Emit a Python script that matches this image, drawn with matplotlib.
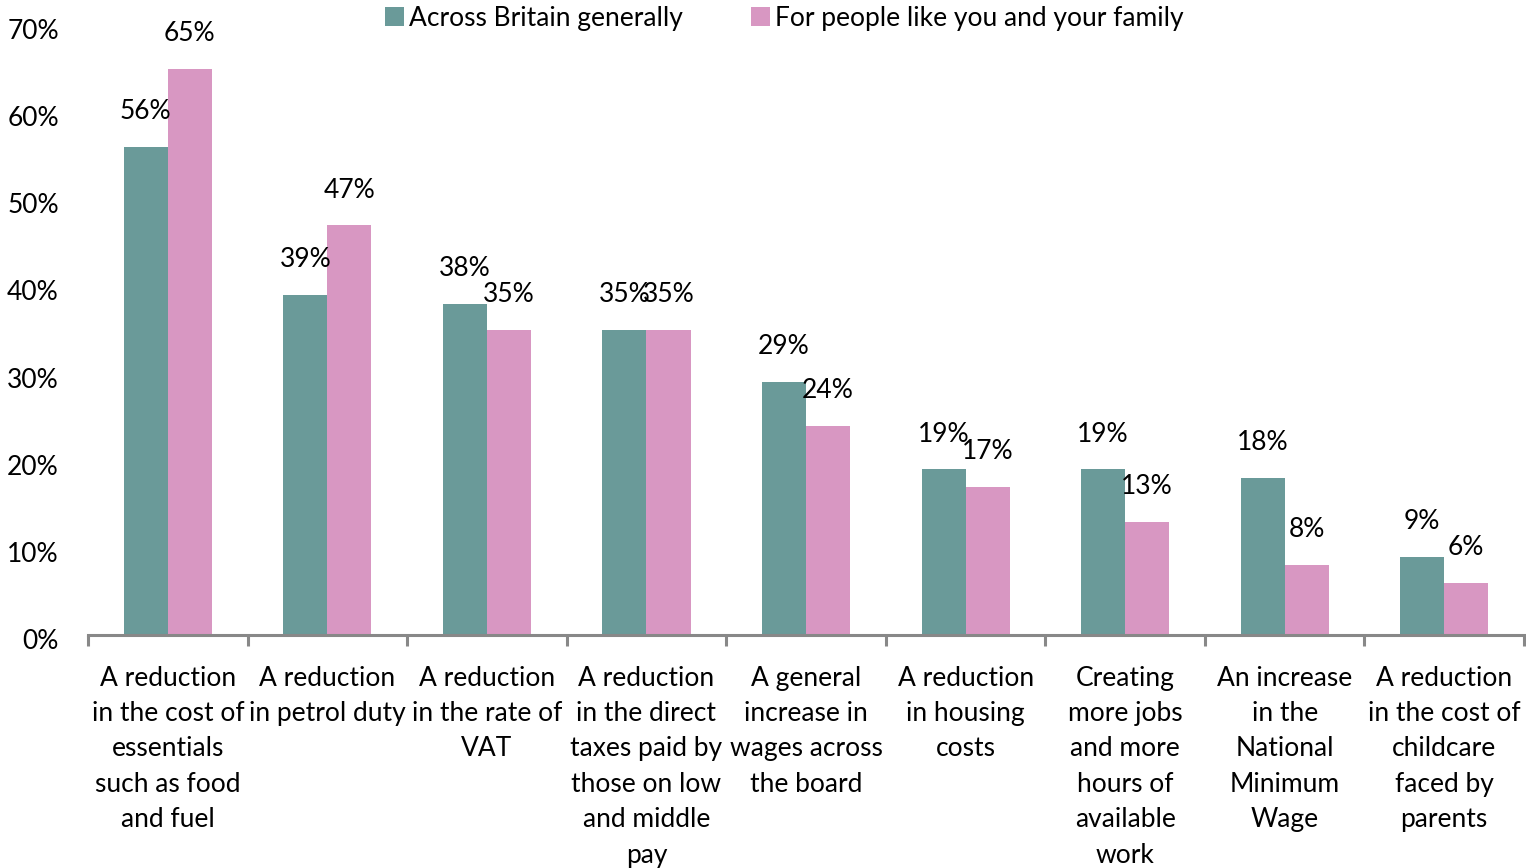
import matplotlib
matplotlib.use("Agg")
import matplotlib.pyplot as plt
import matplotlib.transforms as mtransforms
from matplotlib.patches import Patch
import numpy as np

categories = [
    "A reduction\nin the cost of\nessentials\nsuch as food\nand fuel",
    "A reduction\nin petrol duty",
    "A reduction\nin the rate of\nVAT",
    "A reduction\nin the direct\ntaxes paid by\nthose on low\nand middle\npay",
    "A general\nincrease in\nwages across\nthe board",
    "A reduction\nin housing\ncosts",
    "Creating\nmore jobs\nand more\nhours of\navailable\nwork",
    "An increase\nin the\nNational\nMinimum\nWage",
    "A reduction\nin the cost of\nchildcare\nfaced by\nparents",
]
britain = [56, 39, 38, 35, 29, 19, 19, 18, 9]
family = [65, 47, 35, 35, 24, 17, 13, 8, 6]
series_names = ["Across Britain generally", "For people like you and your family"]
y_ticks = [0, 10, 20, 30, 40, 50, 60, 70]

teal = "#6A9A99"
pink = "#D897C2"
fs = 19

plt.rcParams["font.family"] = ["Lato", "DejaVu Sans"]

fig = plt.figure(figsize=(15.26, 8.68), dpi=100)
ax = fig.add_axes([0.0577, 0.2684, 0.941, 0.7028])

x = np.arange(len(categories))
w = 0.276
b1 = ax.bar(x - w / 2, britain, width=w, color=teal, edgecolor="none")
b2 = ax.bar(x + w / 2, family, width=w, color=pink, edgecolor="none")

for bars, vals in ((b1, britain), (b2, family)):
    for rect, v in zip(bars, vals):
        ax.annotate(f"{v}%", (rect.get_x() + rect.get_width() / 2, v),
                    xytext=(0, 25.5), textcoords="offset points",
                    ha="center", va="center", fontsize=fs, color="black")

ax.set_xlim(-0.5, len(categories) - 0.5)
ax.set_ylim(0, 70)

# y axis: labels only, nudged slightly below their gridline positions
ax.set_yticks(y_ticks)
ax.set_yticklabels([f"{t}%" for t in y_ticks], fontsize=fs)
ax.tick_params(axis="y", length=0, pad=21)
offset = mtransforms.ScaledTranslation(0, -4 / 100, fig.dpi_scale_trans)
for lbl in ax.get_yticklabels():
    lbl.set_transform(lbl.get_transform() + offset)

# x axis: boundary ticks, labels centred under each group
ax.set_xticks(np.arange(len(categories) + 1) - 0.5)
ax.set_xticklabels([])
ax.tick_params(axis="x", which="major", length=8, width=2.2, color="#888888", direction="out")
ax.set_xticks(x, minor=True)
ax.set_xticklabels(categories, minor=True, fontsize=fs, linespacing=1.52)
ax.tick_params(axis="x", which="minor", length=0, pad=22)

for side in ("top", "right", "left"):
    ax.spines[side].set_visible(False)
ax.spines["bottom"].set_color("#888888")
ax.spines["bottom"].set_linewidth(2.2)

handles = [Patch(facecolor=teal, edgecolor="none"), Patch(facecolor=pink, edgecolor="none")]
fig.legend(handles, series_names, loc="center", bbox_to_anchor=(0.514, 0.979), ncol=2,
           frameon=False, fontsize=fs, handlelength=0.7, handleheight=0.7,
           handletextpad=0.2, columnspacing=2.6)

fig.savefig("out.png", dpi=100)
